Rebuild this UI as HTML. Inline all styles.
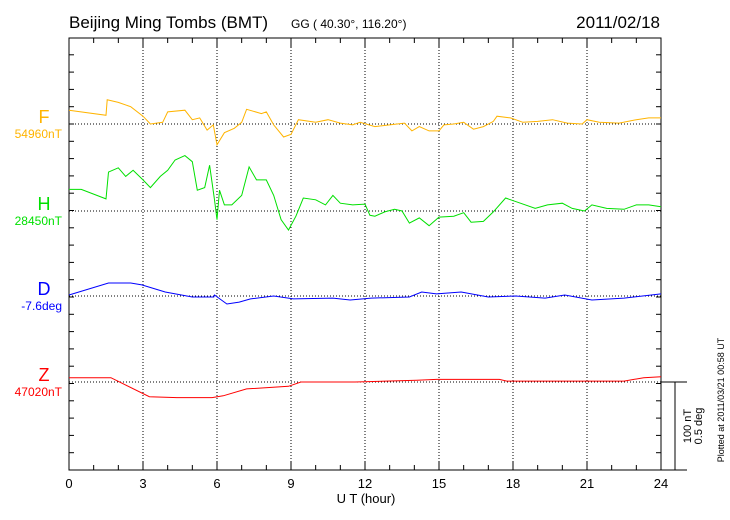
<!DOCTYPE html>
<html><head><meta charset="utf-8"><style>
html,body{margin:0;padding:0;background:#fff;}
svg{display:block;font-family:"Liberation Sans",sans-serif;}
</style></head><body>
<svg id="chart" width="730" height="520" viewBox="0 0 730 520">
<text x="69" y="28" font-size="17">Beijing Ming Tombs (BMT)</text>
<text x="291" y="28" font-size="12">GG ( 40.30°, 116.20°)</text>
<text x="660" y="28" font-size="17" text-anchor="end">2011/02/18</text>
<text x="366" y="503" font-size="13" text-anchor="middle">U T (hour)</text>
<text transform="translate(724,400) rotate(-90)" font-size="9" text-anchor="middle">Plotted at 2011/03/21 00:58 UT</text>
<text transform="translate(691,426) rotate(-90)" font-size="11" text-anchor="middle">100 nT</text>
<text transform="translate(702,426) rotate(-90)" font-size="11" text-anchor="middle">0.5 deg</text>
<g id="grid"></g>
<g id="series"></g>
<g id="labels"></g>
</svg>
<script>
const fT=[0,1.5,1.55,2,2.5,3,3.3,3.8,4,4.7,5,5.3,5.6,5.85,6,6.3,6.7,7,7.2,7.8,8,8.3,8.7,9,9.3,10,10.5,11,11.5,11.8,12.4,12.7,13.3,13.6,13.9,14.2,14.6,15,15.2,15.6,16,16.4,16.8,17.2,17.35,17.9,18.4,19,19.6,20.2,20.8,21,21.5,22.3,23,23.5,24];
const fV=[16,10,28,25,20,9,0,2,14,16,5,7,-7,-1,-24,-10,-5,2,17,12,14,-1,-15,-12,5,2,5,1,-1,2,-3,-2,0,1,-8,-3,-8,-8,-1,0,2,-6,-3,3,9,7,2,3,5,1,0,5,2,1,5,7,7];
const hT=[0,0.5,1.5,1.6,2,2.3,2.6,3,3.3,3.7,4,4.3,4.7,5,5.2,5.5,5.7,5.9,6,6.1,6.3,6.6,7,7.3,7.6,8,8.3,8.6,8.9,9.2,9.5,10,10.4,10.7,11,11.5,12,12.2,12.4,12.8,13.2,13.5,13.8,14.2,14.6,15,15.6,16,16.3,16.8,17.2,17.7,18.3,18.9,19.4,20,20.4,20.9,21.2,21.8,22.5,23,23.5,24];
const hV=[25,25,14,45,50,40,47,36,27,40,47,59,64,57,24,27,53,13,-10,24,7,7,18,51,36,36,18,-10,-22,-6,15,13,7,18,9,7,8,-5,-6,-1,2,0,-14,-8,-17,-7,-6,-2,-13,-12,-1,15,9,3,7,9,3,0,7,3,2,7,7,5];
const dT=[0,1.6,2.5,2.95,3.9,5,5.87,5.9,6.4,6.9,7.36,8.3,9.1,10.7,11.4,12.25,13.8,14.3,14.9,15.9,17,18.1,19.3,20.1,21.2,22.5,24];
const dV=[0.006,0.075,0.075,0.064,0.023,-0.006,-0.006,0.006,-0.046,-0.035,-0.017,0,-0.017,-0.012,-0.023,-0.012,-0.006,0.023,0.012,0.023,-0.006,0,-0.012,0.006,-0.023,-0.012,0.012];
const zT=[0,1.7,3.26,4.37,5.8,6.25,7.2,8.9,9.4,11.6,14.1,14.9,17.45,17.75,22.5,23.3,24];
const zV=[5,5,-17,-18,-18,-16,-8,-5,0,0,2,3,3,1,1,5,6];
const xTickLabels=["0","3","6","9","12","15","18","21","24"];

const NS="http://www.w3.org/2000/svg";
const L=69,R=661,T=38,B=470;
const PXNT=0.865;
const X=h=>L+h*(R-L)/24;
const baseF=124,baseH=211,baseD=296,baseZ=382;
function mk(tag,attrs,parent){const e=document.createElementNS(NS,tag);for(const k in attrs)e.setAttribute(k,attrs[k]);parent.appendChild(e);return e;}
const grid=document.getElementById('grid'),ser=document.getElementById('series'),lab=document.getElementById('labels');
for(let h=3;h<24;h+=3){const g=mk('line',{x1:X(h),x2:X(h),y1:T,y2:B,stroke:'#000','stroke-width':1,'stroke-dasharray':'1,2'},grid);

}
[baseF,baseH,baseD,baseZ].forEach(y=>{const g=mk('line',{x1:L,x2:R,y1:y,y2:y,stroke:'#000','stroke-width':1,'stroke-dasharray':'1,2'},grid);

});
const fr=mk('rect',{x:L,y:T,width:R-L,height:B-T,fill:'none',stroke:'#000','stroke-width':1},grid);


for(let h=0;h<=24;h++){const len=h%3===0?9:5;
mk('line',{x1:X(h),x2:X(h),y1:B,y2:B-len,stroke:'#000'},grid);
mk('line',{x1:X(h),x2:X(h),y1:T,y2:T+len,stroke:'#000'},grid);}
for(let y=B;y>T;y-=PXNT*20){mk('line',{x1:L,x2:L+5,y1:y,y2:y,stroke:'#000'},grid);mk('line',{x1:R,x2:R-5,y1:y,y2:y,stroke:'#000'},grid);}
xTickLabels.forEach((s,i)=>{const t=mk('text',{x:X(i*3),y:488,'font-size':13,'text-anchor':'middle'},lab);t.textContent=s;

});
mk('line',{x1:R,x2:687,y1:baseZ,y2:baseZ,stroke:'#000'},grid);
mk('line',{x1:675,x2:675,y1:baseZ,y2:B,stroke:'#000'},grid);
mk('line',{x1:R,x2:687,y1:B,y2:B,stroke:'#000'},grid);
function line(ts,vs,base,scale,color,name){
 const pts=ts.map((t,i)=>X(t).toFixed(1)+','+(base-vs[i]*scale*PXNT).toFixed(1)).join(' ');
 const p=mk('polyline',{points:pts,fill:'none',stroke:color,'stroke-width':1},ser);
 
 
}
line(fT,fV,baseF,1,'#ffb400','series-f');
line(hT,hV,baseH,1,'#00e000','series-h');
line(dT,dV,baseD,200,'#0000ff','series-d');
line(zT,zV,baseZ,1,'#ff0000','series-z');
const comps=[["F","54960nT",baseF,'#ffb400'],["H","28450nT",baseH,'#00e000'],["D","-7.6deg",baseD,'#0000ff'],["Z","47020nT",baseZ,'#ff0000']];
comps.forEach(c=>{
 const a=mk('text',{x:44,y:c[2]-1,'font-size':18,'text-anchor':'middle',fill:c[3]},lab);a.textContent=c[0];
 
 
 const b=mk('text',{x:62,y:c[2]+14,'font-size':12,'text-anchor':'end',fill:c[3]},lab);b.textContent=c[1];
 
 
});
</script>
</body></html>
